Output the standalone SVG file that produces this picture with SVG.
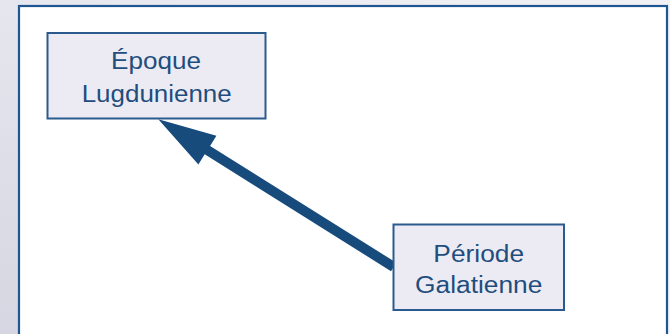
<svg xmlns="http://www.w3.org/2000/svg" width="670" height="334" viewBox="0 0 670 334">
  <defs>
    <linearGradient id="bg" x1="0" y1="0" x2="1" y2="0.6">
      <stop offset="0" stop-color="#e6e6ee"/>
      <stop offset="0.5" stop-color="#eeeef3"/>
      <stop offset="1" stop-color="#f6f6f8"/>
    </linearGradient>
    <linearGradient id="bgl" x1="0" y1="0" x2="0" y2="1">
      <stop offset="0" stop-color="#e6e6ee"/>
      <stop offset="1" stop-color="#d6d6e2"/>
    </linearGradient>
    <style>
      .panel { fill: #ffffff; stroke: #1f5591; stroke-width: 2.2; }
      .node rect { fill: #ecebf3; stroke: #2a5a8e; stroke-width: 2; }
      .node text { font-family: "Liberation Sans", Arial, sans-serif; font-size: 23px; fill: #1f4e7e; text-anchor: middle; }
      .conn { fill: #174b7c; }
    </style>
  </defs>
  <rect x="0" y="0" width="670" height="334" fill="url(#bg)"/>
  <rect x="0" y="0" width="19" height="334" fill="url(#bgl)"/>
  <rect class="panel" x="19" y="6" width="648" height="340"/>
  <g id="connectors">
    <polygon class="conn" points="158.3,119.3 216.4,135.7 210.1,145.9 396.4,262.8 391.0,271.2 204.7,154.3 198.4,164.5"/>
  </g>
  <g id="node-epoque" class="node">
    <rect x="47.5" y="33" width="218" height="85.5"/>
    <text x="156" y="69" textLength="90" lengthAdjust="spacingAndGlyphs">Époque</text>
    <text x="156.7" y="101.7" textLength="150" lengthAdjust="spacingAndGlyphs">Lugdunienne</text>
  </g>
  <g id="node-periode" class="node">
    <rect x="393.5" y="224.5" width="170.5" height="85.5"/>
    <text x="478.7" y="262.3" textLength="90.7" lengthAdjust="spacingAndGlyphs">Période</text>
    <text x="478.7" y="292.7" textLength="127.3" lengthAdjust="spacingAndGlyphs">Galatienne</text>
  </g>
</svg>
